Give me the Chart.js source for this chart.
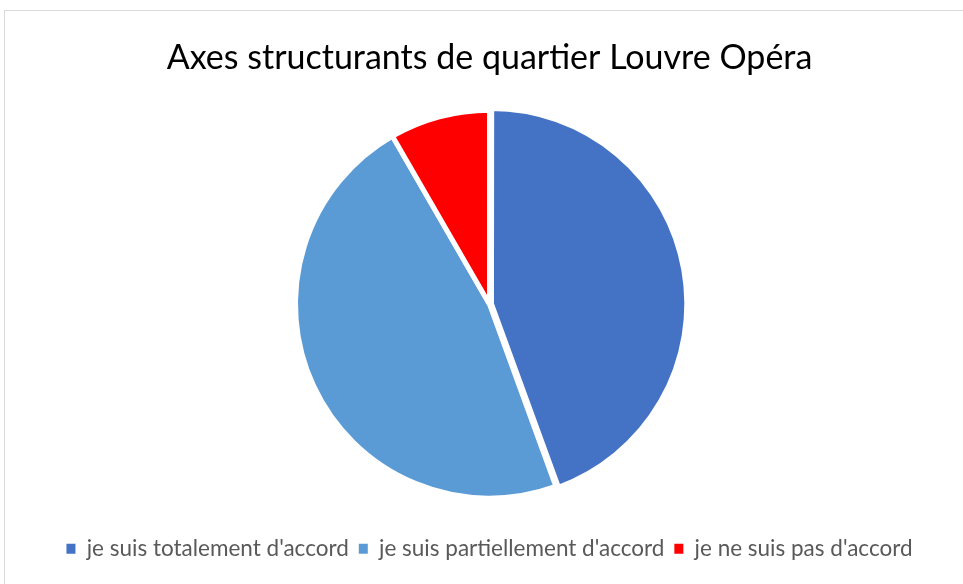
<!DOCTYPE html>
<html>
<head>
<meta charset="utf-8">
<script src="https://cdn.jsdelivr.net/npm/chart.js@4/dist/chart.umd.min.js"></script>
<style>
  html, body { margin: 0; padding: 0; background: #fff; }
  #wrap { position: relative; width: 963px; height: 584px; overflow: hidden; }
  #frame { position: absolute; left: 4px; top: 10px; width: 1000px; height: 600px; border: 1px solid #d9d9d9; box-sizing: border-box; }
  #c { position: absolute; left: 0; top: 0; }
</style>
</head>
<body>
<div id="wrap">
  <div id="frame"></div>
  <canvas id="c" width="963" height="584"></canvas>
</div>
<script>
// chart data
const title = 'Axes structurants de quartier Louvre Opéra';
const categories = ["je suis totalement d'accord", "je suis partiellement d'accord", "je ne suis pas d'accord"];
const values = [16, 17, 3];
const colors = ['#4472C4', '#5B9BD5', '#FF0000'];
const offsets = [8, 0, 0];

const FONT = 'Lato, "Noto Sans", sans-serif';

new Chart(document.getElementById('c'), {
  type: 'pie',
  data: {
    labels: categories,
    datasets: [{
      data: values,
      backgroundColor: colors,
      borderColor: '#ffffff',
      borderWidth: 5,
      offset: offsets
    }]
  },
  options: {
    responsive: false,
    animation: false,
    radius: 194,
    layout: { padding: { left: 16, right: 0, top: 0, bottom: 14 } },
    plugins: {
      title: {
        display: true,
        text: title,
        color: '#000000',
        font: { family: FONT, size: 34, weight: 'normal' },
        padding: { top: 38, bottom: 2 }
      },
      legend: {
        position: 'bottom',
        labels: {
          color: '#595959',
          font: { family: FONT, size: 22.5 },
          boxWidth: 9,
          boxHeight: 10,
          padding: 10,
          generateLabels: (chart) => {
            // no white outline on the legend squares
            const items = Chart.controllers.pie.overrides.plugins.legend.labels.generateLabels(chart);
            items.forEach(it => { it.lineWidth = 0; it.strokeStyle = 'rgba(0,0,0,0)'; });
            return items;
          }
        }
      },
      tooltip: { enabled: false }
    }
  }
});
</script>
</body>
</html>
